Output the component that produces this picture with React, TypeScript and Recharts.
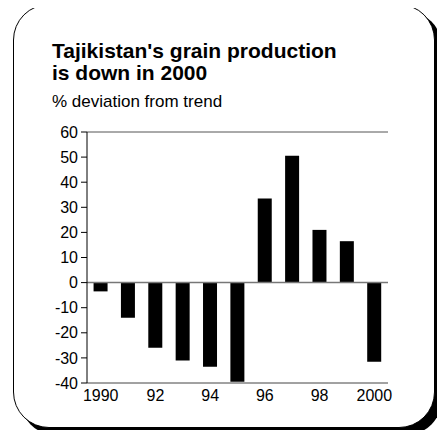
import { Bar, BarChart, ReferenceLine, XAxis, YAxis } from 'recharts';

const years = ['1990', '1991', '1992', '1993', '1994', '1995', '1996', '1997', '1998', '1999', '2000'];
const deviation = [-3.5, -14, -26, -31, -33.5, -39.5, 33.5, 50.5, 21, 16.5, -31.5];
const xTickLabels = ['1990', '', '92', '', '94', '', '96', '', '98', '', '2000'];
const yTicks = [-40, -30, -20, -10, 0, 10, 20, 30, 40, 50, 60];

const data = years.map((year, i) => ({ year, value: deviation[i] }));

const FONT = 'Arial, "Liberation Sans", Helvetica, sans-serif';

export default function App() {
  return (
    <div style={{ position: 'relative', width: 445, height: 438, margin: -8, fontFamily: FONT, background: '#fff' }}>
      <div
        style={{
          position: 'absolute',
          left: 13,
          top: 4,
          width: 422,
          height: 424,
          boxSizing: 'border-box',
          border: '1.5px solid #000',
          borderRadius: 36,
          boxShadow: '7px 7px 0 #000',
          background: '#fff',
        }}
      />
      <div
        style={{
          position: 'absolute',
          left: 52,
          top: 40,
          fontSize: 21,
          fontWeight: 'bold',
          lineHeight: '22px',
          color: '#000',
          whiteSpace: 'nowrap',
        }}
      >
        Tajikistan's grain production
        <br />
        is down in 2000
      </div>
      <div style={{ position: 'absolute', left: 52, top: 92, fontSize: 17, lineHeight: '20px', color: '#000' }}>
        % deviation from trend
      </div>
      <div style={{ position: 'absolute', left: 0, top: 0 }}>
        <BarChart
          width={445}
          height={438}
          data={data}
          margin={{ top: 132, right: 57, bottom: 25, left: 0 }}
          barCategoryGap='24%'
        >
          <XAxis
            dataKey='year'
            interval={0}
            tickLine={false}
            tickSize={5}
            tickMargin={2}
            axisLine={{ stroke: '#444' }}
            tick={{ fill: '#000', fontSize: 16, fontFamily: FONT }}
            tickFormatter={(_, i) => xTickLabels[i]}
            height={30}
          />
          <YAxis
            domain={[-40, 60]}
            ticks={yTicks}
            interval={0}
            width={87}
            tickSize={6}
            tickMargin={3}
            axisLine={{ stroke: '#000' }}
            tickLine={{ stroke: '#000' }}
            tick={{ fill: '#000', fontSize: 16, fontFamily: FONT }}
          />
          <YAxis
            yAxisId='right'
            orientation='right'
            domain={[-40, 60]}
            width={0}
            tick={false}
            tickLine={false}
            axisLine={{ stroke: '#555' }}
          />
          <ReferenceLine y={60} stroke='#555' />
          <Bar dataKey='value' fill='#000' isAnimationActive={false} />
          <ReferenceLine y={0} stroke='#777' strokeWidth={1.5} />
        </BarChart>
      </div>
    </div>
  );
}
